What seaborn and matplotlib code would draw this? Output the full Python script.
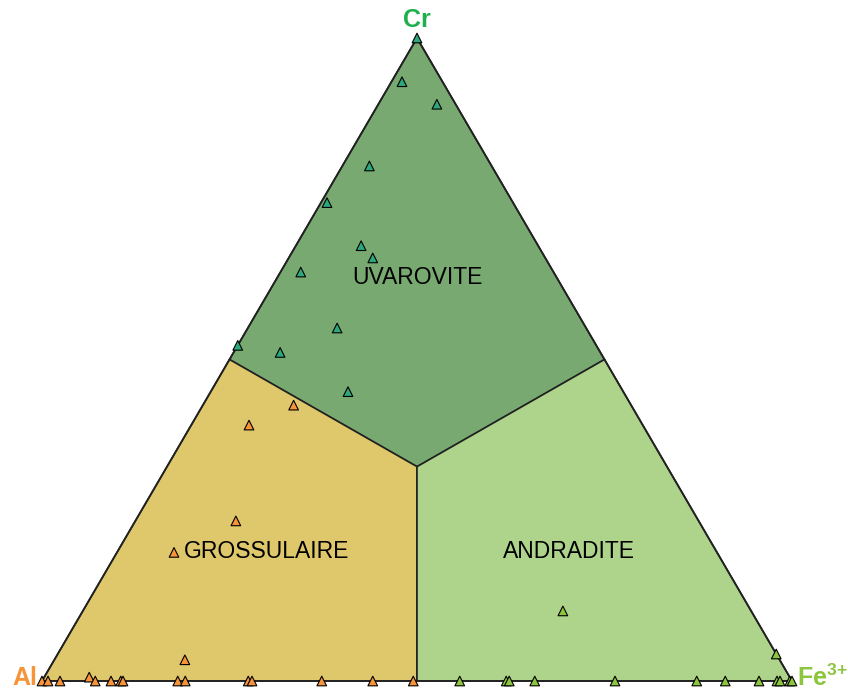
import numpy as np
import pandas as pd
import seaborn as sns
import matplotlib.pyplot as plt
from matplotlib.patches import Polygon

# --- DATEN (Anteile in %: Al, Fe3+, Cr) ---
uva_al = [0.0, 5.4, 2.5, 16.3, 24.8, 23.6, 23.0, 33.7, 33.2, 47.8, 42.7, 36.7]
uva_fe = [0.0, 1.4, 7.8, 3.6, 0.8, 8.7, 11.2, 2.7, 11.9, 0.0, 6.2, 18.3]
uva_cr = [100.0, 93.2, 89.7, 80.1, 74.4, 67.7, 65.8, 63.6, 54.9, 52.2, 51.1, 45.0]

gro_al = [44.9, 52.5, 61.7, 72.4, 79.3, 100.0, 99.2, 97.6, 93.4, 92.9, 90.8, 89.5,
          89.2, 81.9, 80.9, 72.5, 72.0, 62.7, 55.9, 50.5]
gro_fe = [12.1, 7.7, 13.4, 7.6, 17.4, 0.0, 0.8, 2.4, 6.0, 7.1, 9.2, 10.5,
          10.8, 18.1, 19.1, 27.5, 28.0, 37.3, 44.1, 49.5]
gro_cr = [42.9, 39.8, 24.9, 20.0, 3.3, 0.0, 0.0, 0.0, 0.6, 0.0, 0.0, 0.0,
          0.0, 0.0, 0.0, 0.0, 0.0, 0.0, 0.0, 0.0]

and_al = [25.1, 0.0, 44.3, 38.1, 37.7, 34.3, 23.6, 12.7, 8.9, 4.4, 2.0, 1.6, 0.3, 0.0]
and_fe = [64.0, 95.8, 55.7, 61.9, 62.3, 65.7, 76.4, 87.3, 91.1, 95.6, 98.0, 98.4, 99.7, 100.0]
and_cr = [10.9, 4.2, 0.0, 0.0, 0.0, 0.0, 0.0, 0.0, 0.0, 0.0, 0.0, 0.0, 0.0, 0.0]

fields = ["UVAROVITE", "GROSSULAIRE", "ANDRADITE"]
# Position der Feldnamen (Al, Fe3+, Cr in %)
label_al = [18.5, 60.0, 19.6]
label_fe = [18.7, 19.8, 60.2]
label_cr = [62.8, 20.2, 20.2]

fill_colors = {"UVAROVITE": "#78a971", "GROSSULAIRE": "#dfc86c", "ANDRADITE": "#aed48c"}
point_colors = {"UVAROVITE": "#2ca87c", "GROSSULAIRE": "#f7943a", "ANDRADITE": "#8cc63e"}


def to_xy(al, fe, cr):
    # ternaer -> kartesisch (Al links, Fe3+ rechts, Cr oben)
    fe = np.asarray(fe, float) / 100
    cr = np.asarray(cr, float) / 100
    return fe + cr / 2, cr


sns.set_theme(style="white")
plt.rcParams['font.family'] = ['Liberation Sans', 'DejaVu Sans']
plt.rcParams['mathtext.fontset'] = 'custom'
plt.rcParams['mathtext.rm'] = 'Liberation Sans'
plt.rcParams['mathtext.bf'] = 'Liberation Sans:bold'

fig = plt.figure(figsize=(8.48, 6.91), dpi=100)
ax = fig.add_axes([0, 0, 1, 1])

# Felder: Grenzen dort, wo zwei Komponenten gleich und maximal sind
third = 100 / 3
field_polys = {
    "UVAROVITE": ([0, 50, third, 0], [0, 0, third, 50], [100, 50, third, 50]),
    "GROSSULAIRE": ([100, 50, third, 50], [0, 0, third, 50], [0, 50, third, 0]),
    "ANDRADITE": ([0, 50, third, 0], [100, 50, third, 50], [0, 0, third, 50]),
}
for name, (a, f, c) in field_polys.items():
    px, py = to_xy(a, f, c)
    ax.add_patch(Polygon(np.column_stack([px, py]), closed=True,
                         facecolor=fill_colors[name], edgecolor='#222222',
                         linewidth=1.2, zorder=1))

# Aussenkontur
ox, oy = to_xy([100, 0, 0, 100], [0, 100, 0, 0], [0, 0, 100, 0])
ax.plot(ox, oy, color='#222222', linewidth=1.3, zorder=2)

# Punkte
frames = []
for name, (a, f, c) in zip(fields, [(uva_al, uva_fe, uva_cr),
                                    (gro_al, gro_fe, gro_cr),
                                    (and_al, and_fe, and_cr)]):
    x, y = to_xy(a, f, c)
    frames.append(pd.DataFrame({'x': x, 'y': y, 'Feld': name}))
df = pd.concat(frames, ignore_index=True)

sns.scatterplot(data=df, x='x', y='y', hue='Feld', palette=point_colors,
                marker='^', s=48, edgecolor='black', linewidth=0.8,
                legend=False, zorder=5, clip_on=False, ax=ax)
ax.set_xlim(-42 / 750, 806 / 750)
ax.set_ylim(-10 / 643, 681 / 643)
ax.axis('off')

# Feldnamen
lx, ly = to_xy(label_al, label_fe, label_cr)
for name, x, y in zip(fields, lx, ly):
    ax.text(x, y, name, ha='center', va='center', fontsize=16.5,
            color='black', zorder=6)

# Eckbeschriftungen
ax.text(0.5, 661 / 643, "Cr", ha='center', va='center', fontsize=18,
        fontweight='bold', color='#1db04c')
ax.text(-5 / 750, 3 / 643, "Al", ha='right', va='center', fontsize=18,
        fontweight='bold', color='#f7943a')
ax.text(755 / 750, 3 / 643, r"Fe$^{\mathbf{3{+}}}$", ha='left', va='center',
        fontsize=18, fontweight='bold', color='#8cc63e')

plt.savefig("out.png", dpi=100)
